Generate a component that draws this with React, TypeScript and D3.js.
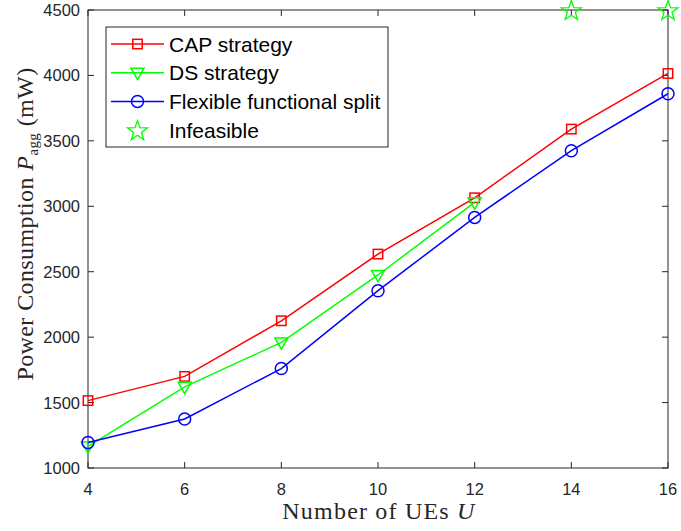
import React from "react";
import * as d3 from "d3";

const users = [4, 6, 8, 10, 12, 14, 16];
const capValues = [1515, 1700, 2125, 2635, 3065, 3590, 4015];
const dsUsers = [4, 6, 8, 10, 12];
const dsValues = [1165, 1620, 1960, 2475, 3030];
const flexValues = [1195, 1375, 1760, 2355, 2915, 3425, 3860];
const infeasibleUsers = [14, 16];
const infeasibleValues = [4500, 4500];
const xTicks = [4, 6, 8, 10, 12, 14, 16];
const yTicks = [1000, 1500, 2000, 2500, 3000, 3500, 4000, 4500];
const legendLabels = ["CAP strategy", "DS strategy", "Flexible functional split", "Infeasible"];

const W = 681, H = 531;
const L = 88, R = 668, T = 10, B = 468;

function starPath(cx: number, cy: number, ro: number, ri: number) {
  const pts: string[] = [];
  for (let i = 0; i < 10; i++) {
    const r = i % 2 === 0 ? ro : ri;
    const a = -Math.PI / 2 + (i * Math.PI) / 5;
    pts.push(`${cx + r * Math.cos(a)},${cy + r * Math.sin(a)}`);
  }
  return "M" + pts.join("L") + "Z";
}

function Marker({ type, x, y, color }: { type: string; x: number; y: number; color: string }) {
  if (type === "square")
    return <rect x={x - 4.7} y={y - 4.7} width={9.4} height={9.4} fill="none" stroke={color} strokeWidth={1.5} />;
  if (type === "tri")
    return <path d={`M${x - 6.5},${y - 4.5}L${x + 6.5},${y - 4.5}L${x},${y + 6.8}Z`} fill="none" stroke={color} strokeWidth={1.5} />;
  if (type === "circle")
    return <circle cx={x} cy={y} r={6} fill="none" stroke={color} strokeWidth={1.5} />;
  return <path d={starPath(x, y + 1, 10.5, 4.2)} fill="none" stroke={color} strokeWidth={1.3} />;
}

export default function App() {
  const x = d3.scaleLinear().domain([4, 16]).range([L, R]);
  const y = d3.scaleLinear().domain([1000, 4500]).range([B, T]);
  const line = d3.line<[number, number]>().x((d) => x(d[0])).y((d) => y(d[1]));

  const series = [
    { xs: users, ys: capValues, color: "#ff0000", marker: "square" },
    { xs: dsUsers, ys: dsValues, color: "#00ff00", marker: "tri" },
    { xs: users, ys: flexValues, color: "#0000ff", marker: "circle" },
  ];

  const tickFont = "Liberation Sans, Arial, sans-serif";
  const serif = "Liberation Serif, Times New Roman, serif";
  const axisColor = "#262626";

  const legX = 106, legY = 27, legW = 282, legH = 120;
  const legendItems = [
    { color: "#ff0000", marker: "square", line: true },
    { color: "#00ff00", marker: "tri", line: true },
    { color: "#0000ff", marker: "circle", line: true },
    { color: "#00ff00", marker: "star", line: false },
  ];

  return (
    <svg width={W} height={H} style={{ position: "absolute", left: 0, top: 0, background: "#fff" }}>
      <rect x={0} y={0} width={W} height={H} fill="#fff" />
      <rect x={L} y={T} width={R - L} height={B - T} fill="none" stroke={axisColor} strokeWidth={1} />
      {xTicks.map((t) => (
        <g key={"x" + t}>
          <line x1={x(t)} x2={x(t)} y1={B} y2={B - 6} stroke={axisColor} />
          <line x1={x(t)} x2={x(t)} y1={T} y2={T + 6} stroke={axisColor} />
          <text x={x(t)} y={B + 27} textAnchor="middle" fontFamily={tickFont} fontSize={16.5} fill="#262626">{t}</text>
        </g>
      ))}
      {yTicks.map((t) => (
        <g key={"y" + t}>
          <line x1={L} x2={L + 6} y1={y(t)} y2={y(t)} stroke={axisColor} />
          <line x1={R} x2={R - 6} y1={y(t)} y2={y(t)} stroke={axisColor} />
          <text x={L - 8} y={y(t) + 6} textAnchor="end" fontFamily={tickFont} fontSize={16.5} fill="#262626">{t}</text>
        </g>
      ))}
      {series.map((s, i) => {
        const pts = s.xs.map((v, j) => [v, s.ys[j]] as [number, number]);
        return (
          <g key={i}>
            <path d={line(pts) || ""} fill="none" stroke={s.color} strokeWidth={1.5} />
            {pts.map((p, j) => (
              <Marker key={j} type={s.marker} x={x(p[0])} y={y(p[1])} color={s.color} />
            ))}
          </g>
        );
      })}
      {infeasibleUsers.map((u, i) => (
        <Marker key={"s" + i} type="star" x={x(u)} y={y(infeasibleValues[i])} color="#00ff00" />
      ))}
      <rect x={legX} y={legY} width={legW} height={legH} fill="#fff" stroke={axisColor} strokeWidth={1} />
      {legendItems.map((it, i) => {
        const cy = legY + 17 + i * 28.7;
        return (
          <g key={"l" + i}>
            {it.line && <line x1={111} x2={164} y1={cy} y2={cy} stroke={it.color} strokeWidth={1.5} />}
            <Marker type={it.marker} x={137.5} y={cy} color={it.color} />
            <text x={169} y={cy + 7.5} fontFamily={tickFont} fontSize={21} fill="#000">{legendLabels[i]}</text>
          </g>
        );
      })}
      <text x={379} y={519} textAnchor="middle" fontFamily={serif} fontSize={24} letterSpacing={1.2} fill="#262626">
        Number of UEs <tspan fontStyle="italic">U</tspan>
      </text>
      <text transform={`translate(33, 224) rotate(-90)`} textAnchor="middle" fontFamily={serif} fontSize={24} letterSpacing={0.4} fill="#262626">
        Power Consumption <tspan fontStyle="italic">P</tspan>
        <tspan fontSize={15} dy={5}>agg</tspan>
        <tspan dy={-5}> (mW)</tspan>
      </text>
    </svg>
  );
}
